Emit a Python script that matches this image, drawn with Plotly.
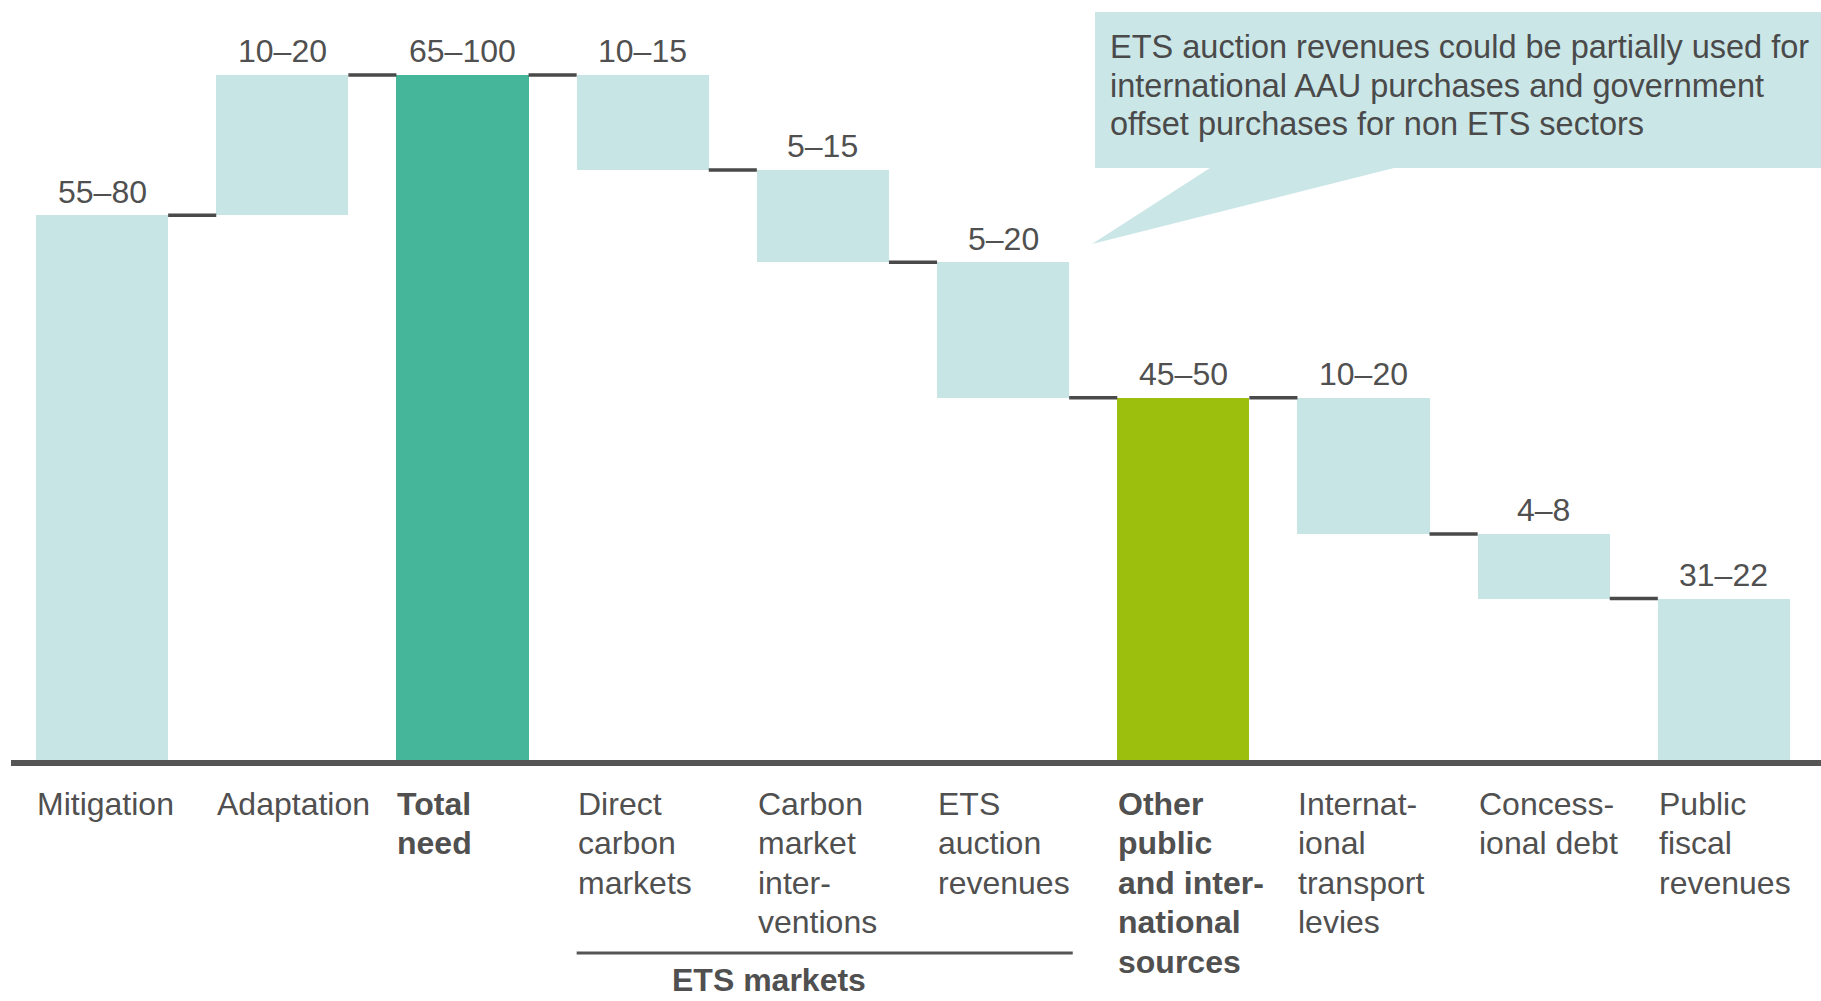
import plotly.graph_objects as go

# ---- data -------------------------------------------------------------
categories = [
    "Mitigation", "Adaptation", "Total need", "Direct carbon markets",
    "Carbon market interventions", "ETS auction revenues",
    "Other public and international sources",
    "International transport levies", "Concessional debt",
    "Public fiscal revenues",
]
label_lines = [
    ["Mitigation"], ["Adaptation"], ["Total", "need"],
    ["Direct", "carbon", "markets"],
    ["Carbon", "market", "inter-", "ventions"],
    ["ETS", "auction", "revenues"],
    ["Other", "public", "and inter-", "national", "sources"],
    ["Internat-", "ional", "transport", "levies"],
    ["Concess-", "ional debt"],
    ["Public", "fiscal", "revenues"],
]
range_labels = ["55–80", "10–20", "65–100", "10–15", "5–15", "5–20",
                "45–50", "10–20", "4–8", "31–22"]
amounts = [79.6, 20.4, 100.0, 13.8, 13.4, 19.7, 53.1, 19.8, 9.4, 23.9]
steps = ["up", "up", "total", "down", "down", "down",
         "total", "down", "down", "down"]
group_label = "ETS markets"
group_members = ["Direct carbon markets", "Carbon market interventions",
                 "ETS auction revenues"]
note_lines = [
    "ETS auction revenues could be partially used for",
    "international AAU purchases and government",
    "offset purchases for non ETS sectors",
]

# ---- style ------------------------------------------------------------
FONT = "Liberation Sans, Arial, sans-serif"
TEXT = "#505050"
LIGHT = "#c8e5e6"
TOTAL_COLORS = {"Total need": "#46b69b",
                "Other public and international sources": "#9bbf0c"}
BAR_W = 0.733
W, H = 1821, 1001
ML, MR, MT, MB = 12, 7, 0, 238
YMAX = 110.9
plot_w = W - ML - MR
plot_h = H - MT - MB

# ---- waterfall geometry ----------------------------------------------
bases, ends = [], []
level = 0.0
for v, s in zip(amounts, steps):
    if s == "up":
        bases.append(level)
        level += v
    elif s == "total":
        bases.append(0.0)
        level = v
    else:
        level -= v
        bases.append(level)
    ends.append(level)
tops = [b + v for b, v in zip(bases, amounts)]
colors = [TOTAL_COLORS.get(c, LIGHT) if s == "total" else LIGHT
          for c, s in zip(categories, steps)]
xs = list(range(len(categories)))

fig = go.Figure()
fig.add_trace(go.Bar(
    x=xs, y=amounts, base=bases, width=BAR_W,
    marker=dict(color=colors, line=dict(width=0)),
    hoverinfo="skip", showlegend=False,
))

# connectors between neighbouring bars
cx, cy = [], []
for i in range(len(xs) - 1):
    cx += [xs[i] + BAR_W / 2, xs[i + 1] - BAR_W / 2, None]
    cy += [ends[i], ends[i], None]
fig.add_trace(go.Scatter(
    x=cx, y=cy, mode="lines", line=dict(color="#4a4a4a", width=3.5),
    hoverinfo="skip", showlegend=False,
))

annotations = []
# range labels above bars
for x, t, lab in zip(xs, tops, range_labels):
    annotations.append(dict(
        x=x, y=t, xref="x", yref="y", text=lab, showarrow=False,
        xanchor="center", yanchor="middle", yshift=23.5,
        font=dict(family=FONT, size=32, color=TEXT),
    ))

# category labels, left aligned under each bar
for x, lines, s in zip(xs, label_lines, steps):
    for k, line in enumerate(lines):
        txt = f"<b>{line}</b>" if s == "total" else line
        annotations.append(dict(
            x=x - BAR_W / 2, y=0, xref="x", yref="paper", text=txt,
            showarrow=False, xanchor="left", yanchor="middle",
            yshift=-(40.5 + 39.5 * k), xshift=-1,
            font=dict(family=FONT, size=32, color=TEXT),
        ))

# group bracket under the ETS categories
gi = [categories.index(c) for c in group_members]
g0, g1 = min(gi) - BAR_W / 2, max(gi) + BAR_W / 2
annotations.append(dict(
    x=g0, y=0, xref="x", yref="paper", text=f"<b>{group_label}</b>",
    showarrow=False, xanchor="left", yanchor="middle",
    xshift=93, yshift=-(980 - (H - MB)),
    font=dict(family=FONT, size=32, color=TEXT),
))


def px_x(p):
    return (p - ML) / plot_w


def px_y(p):
    return (H - MB - p) / plot_h


shapes = [
    # baseline
    dict(type="line", xref="paper", yref="paper",
         x0=px_x(11), x1=px_x(W), y0=0, y1=0,
         line=dict(color="#555555", width=6), layer="above"),
    # bracket line
    dict(type="line", xref="x", yref="paper", x0=g0, x1=g1 + 0.02,
         y0=px_y(953), y1=px_y(953),
         line=dict(color="#555555", width=3)),
]

# speech-bubble note
bx0, bx1, by0, by1 = px_x(1095), px_x(W + 5), px_y(12), px_y(168)
p0, p1 = px_x(1210), px_x(1394)
tipx, tipy = px_x(1092), px_y(244)
path = (f"M {bx0},{by0} L {bx1},{by0} L {bx1},{by1} L {p1},{by1} "
        f"L {tipx},{tipy} L {p0},{by1} L {bx0},{by1} Z")
shapes.append(dict(type="path", xref="paper", yref="paper", path=path,
                   fillcolor="#cbe6e7", line=dict(width=0), layer="below"))
for k, line in enumerate(note_lines):
    annotations.append(dict(
        x=px_x(1108), y=px_y(47 + 38.5 * k), xref="paper", yref="paper",
        text=line, showarrow=False, xanchor="left", yanchor="middle",
        font=dict(family=FONT, size=32.5, color="#4a4a4a"),
    ))

fig.update_layout(
    width=W, height=H,
    margin=dict(l=ML, r=MR, t=MT, b=MB, pad=0),
    paper_bgcolor="white", plot_bgcolor="white",
    xaxis=dict(range=[-0.5, len(xs) - 0.5], visible=False, fixedrange=True),
    yaxis=dict(range=[0, YMAX], visible=False, fixedrange=True),
    bargap=0, shapes=shapes, annotations=annotations,
    showlegend=False,
)

fig.write_html("out.html", config={"displayModeBar": False})
